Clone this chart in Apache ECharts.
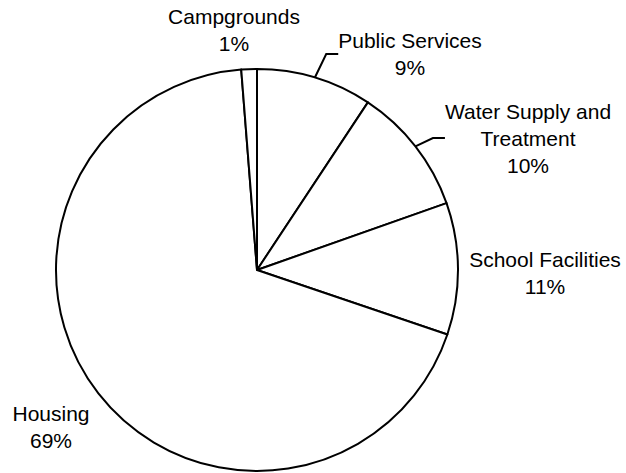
<!DOCTYPE html>
<html>
<head>
<meta charset="utf-8">
<script src="https://cdn.jsdelivr.net/npm/echarts@6/dist/echarts.min.js"></script>
<style>
  html, body { margin: 0; padding: 0; background: #fff; }
  #chart { width: 626px; height: 473px; }
</style>
</head>
<body>
<div id="chart"></div>
<script>
const categories = ["Public Services", "Water Supply and\nTreatment", "School Facilities", "Housing", "Campgrounds"];
const shares = [9.3, 10.3, 10.6, 68.55, 1.25];

// label centres (px) and which slices get a leader line
const labelPos = [[410, 54], [528, 138], [545, 273], [51, 427], [234, 30]];
const showLine = [true, true, false, false, false];

const chart = echarts.init(document.getElementById("chart"), null, { renderer: "svg" });

chart.setOption({
  animation: false,
  series: [
    {
      type: "pie",
      center: [257, 270],
      radius: [0, 201],
      startAngle: 90,
      clockwise: true,
      silent: true,
      itemStyle: { color: "#fff", borderColor: "#000", borderWidth: 2 },
      label: {
        show: true,
        position: "outside",
        color: "#000",
        fontFamily: "Liberation Sans, Arial, sans-serif",
        fontSize: 21,
        lineHeight: 27,
        align: "center",
        overflow: "none",
        formatter: (p) => p.name + "\n" + Math.round(p.percent) + "%",
      },
      labelLine: { show: true, length: 10, length2: 12, lineStyle: { color: "#000", width: 2 } },
      labelLayout: (p) => ({
        x: labelPos[p.dataIndex][0],
        y: labelPos[p.dataIndex][1],
        align: "center",
        verticalAlign: "middle",
      }),
      data: categories.map((name, i) => ({
        name: name,
        value: shares[i],
        labelLine: { show: showLine[i] },
      })),
    },
  ],
});
</script>
</body>
</html>
